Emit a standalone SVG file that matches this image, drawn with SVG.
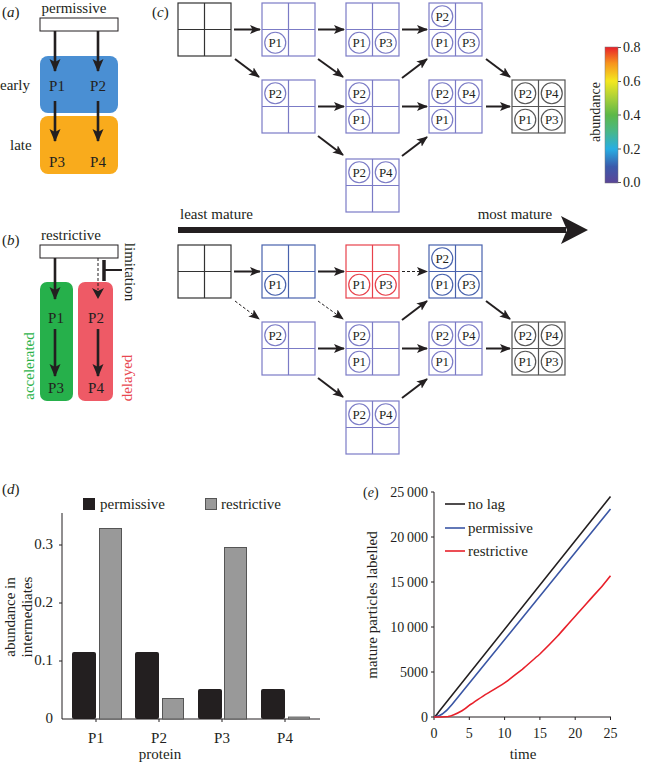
<svg xmlns="http://www.w3.org/2000/svg" width="647" height="764" viewBox="0 0 647 764" font-family="'Liberation Serif', 'DejaVu Serif', serif">
<defs>
<style>
text{fill:#231f20}
.t15{font-size:15px}
.t14{font-size:14px}
.ct{font-size:13px;text-anchor:middle}
.box path,.box rect,.box circle{fill:none;stroke-width:1.2}
.k path,.k rect,.k circle{stroke:#333}
.g path,.g rect,.g circle{stroke:#555}
.lav path,.lav rect,.lav circle{stroke:#7b7bc6}
.blu path,.blu rect,.blu circle{stroke:#4862ad}
.red path,.red rect,.red circle{stroke:#e8414b}
.arr{stroke:#231f20;stroke-width:2;fill:none;marker-end:url(#ah)}
.dash{stroke:#231f20;stroke-width:1;stroke-dasharray:3,2;fill:none;marker-end:url(#ah)}
.barr{stroke:#231f20;stroke-width:2.6;fill:none;marker-end:url(#bh)}
.ax{stroke:#231f20;stroke-width:1;fill:none}
</style>
<marker id="ah" markerUnits="userSpaceOnUse" markerWidth="12" markerHeight="10" refX="10" refY="4.5" orient="auto">
<path d="M0,0 L11,4.5 L0,9 L2.5,4.5 z" fill="#231f20"/>
</marker>
<marker id="bh" markerUnits="userSpaceOnUse" markerWidth="14" markerHeight="12" refX="12" refY="5.5" orient="auto">
<path d="M0,0 L13,5.5 L0,11 L3,5.5 z" fill="#231f20"/>
</marker>
<linearGradient id="jet" x1="0" y1="1" x2="0" y2="0">
<stop offset="0" stop-color="#5b4597"/>
<stop offset="0.12" stop-color="#3b5aab"/>
<stop offset="0.25" stop-color="#27aee3"/>
<stop offset="0.38" stop-color="#49b787"/>
<stop offset="0.5" stop-color="#5cb848"/>
<stop offset="0.62" stop-color="#a6cf3a"/>
<stop offset="0.75" stop-color="#f4e820"/>
<stop offset="0.88" stop-color="#f7941d"/>
<stop offset="1" stop-color="#e8202a"/>
</linearGradient>
</defs>
<rect width="647" height="764" fill="#fff"/>

<!-- Panel a -->
<g id="panel-a">
<text x="2" y="17" class="t15">(<tspan font-style="italic">a</tspan>)</text>
<text x="74" y="13" class="t15" text-anchor="middle">permissive</text>
<rect id="a-permissive" x="40" y="18" width="78" height="13" fill="#fff" stroke="#231f20" stroke-width="1"/>
<rect id="a-early" x="40" y="56" width="78" height="57" rx="8" fill="#4a8fd3"/>
<rect id="a-late" x="40" y="116" width="78" height="58" rx="8" fill="#f9ab1c"/>
<text x="0" y="90" class="t15">early</text>
<text x="10" y="150" class="t15">late</text>
<text x="57" y="91" class="t15" text-anchor="middle">P1</text>
<text x="98" y="91" class="t15" text-anchor="middle">P2</text>
<text x="57" y="167" class="t15" text-anchor="middle">P3</text>
<text x="98" y="167" class="t15" text-anchor="middle">P4</text>
</g>
<g id="a-connectors">
<line x1="55" y1="31" x2="55" y2="71" class="barr"/>
<line x1="98" y1="31" x2="98" y2="71" class="barr"/>
<line x1="55" y1="101" x2="55" y2="141" class="barr"/>
<line x1="98" y1="101" x2="98" y2="141" class="barr"/>
</g>

<!-- Panel b -->
<g id="panel-b">
<text x="2" y="245" class="t15">(<tspan font-style="italic">b</tspan>)</text>
<text x="71" y="240" class="t15" text-anchor="middle">restrictive</text>
<rect id="b-restrictive" x="40" y="245" width="78" height="13" fill="#fff" stroke="#231f20" stroke-width="1"/>
<rect id="b-accel" x="40" y="282" width="33" height="119" rx="7" fill="#26b04b"/>
<rect id="b-delay" x="78" y="282" width="35" height="119" rx="7" fill="#ee5a66"/>
<text x="56" y="323" class="t15" text-anchor="middle">P1</text>
<text x="96" y="323" class="t15" text-anchor="middle">P2</text>
<text x="56" y="393" class="t15" text-anchor="middle">P3</text>
<text x="96" y="393" class="t15" text-anchor="middle">P4</text>
<text transform="translate(34,366) rotate(-90)" class="t15" text-anchor="middle" style="fill:#2db34a">accelerated</text>
<text transform="translate(132,378) rotate(-90)" class="t15" text-anchor="middle" style="fill:#e8474f">delayed</text>
<text transform="translate(125,272) rotate(90)" class="t15" text-anchor="middle">limitation</text>
</g>
<g id="b-connectors">
<line x1="55" y1="258" x2="55" y2="299" class="barr"/>
<line x1="98" y1="258" x2="98" y2="290" stroke="#231f20" stroke-width="1" stroke-dasharray="3,2"/>
<path d="M92,288 L98,299 L104,288 L98,291 z" fill="#231f20"/>
<line x1="55" y1="329" x2="55" y2="376" class="barr"/>
<line x1="98" y1="329" x2="98" y2="376" class="barr"/>
<line x1="104" y1="260" x2="104" y2="281" stroke="#231f20" stroke-width="3.5"/>
<line x1="104" y1="270" x2="122" y2="270" stroke="#231f20" stroke-width="2"/>
</g>

<!-- Panel c -->
<text x="152" y="17" class="t15">(<tspan font-style="italic">c</tspan>)</text>

<g id="A0" class="box k"><rect x="178" y="3" width="53" height="53"/><path d="M204.5,3v53 M178,29.5h53"/></g>
<g id="A1" class="box lav"><rect x="262" y="3" width="53" height="53"/><path d="M288.5,3v53 M262,29.5h53"/>
<circle cx="275.25" cy="42.75" r="10.5"/><text x="275.25" y="47.25" class="ct">P1</text></g>
<g id="A2" class="box lav"><rect x="346" y="3" width="53" height="53"/><path d="M372.5,3v53 M346,29.5h53"/>
<circle cx="359.25" cy="42.75" r="10.5"/><text x="359.25" y="47.25" class="ct">P1</text>
<circle cx="385.75" cy="42.75" r="10.5"/><text x="385.75" y="47.25" class="ct">P3</text></g>
<g id="A3" class="box lav"><rect x="429" y="3" width="53" height="53"/><path d="M455.5,3v53 M429,29.5h53"/>
<circle cx="442.25" cy="16.25" r="10.5"/><text x="442.25" y="20.75" class="ct">P2</text>
<circle cx="442.25" cy="42.75" r="10.5"/><text x="442.25" y="47.25" class="ct">P1</text>
<circle cx="468.75" cy="42.75" r="10.5"/><text x="468.75" y="47.25" class="ct">P3</text></g>
<g id="A4" class="box lav"><rect x="262" y="80" width="53" height="53"/><path d="M288.5,80v53 M262,106.5h53"/>
<circle cx="275.25" cy="93.25" r="10.5"/><text x="275.25" y="97.75" class="ct">P2</text></g>
<g id="A5" class="box lav"><rect x="346" y="80" width="53" height="53"/><path d="M372.5,80v53 M346,106.5h53"/>
<circle cx="359.25" cy="93.25" r="10.5"/><text x="359.25" y="97.75" class="ct">P2</text>
<circle cx="359.25" cy="119.75" r="10.5"/><text x="359.25" y="124.25" class="ct">P1</text></g>
<g id="A6" class="box lav"><rect x="346" y="159" width="53" height="53"/><path d="M372.5,159v53 M346,185.5h53"/>
<circle cx="359.25" cy="172.25" r="10.5"/><text x="359.25" y="176.75" class="ct">P2</text>
<circle cx="385.75" cy="172.25" r="10.5"/><text x="385.75" y="176.75" class="ct">P4</text></g>
<g id="A7" class="box lav"><rect x="429" y="80" width="53" height="53"/><path d="M455.5,80v53 M429,106.5h53"/>
<circle cx="442.25" cy="93.25" r="10.5"/><text x="442.25" y="97.75" class="ct">P2</text>
<circle cx="468.75" cy="93.25" r="10.5"/><text x="468.75" y="97.75" class="ct">P4</text>
<circle cx="442.25" cy="119.75" r="10.5"/><text x="442.25" y="124.25" class="ct">P1</text></g>
<g id="A8" class="box g"><rect x="512" y="80" width="53" height="53"/><path d="M538.5,80v53 M512,106.5h53"/>
<circle cx="525.25" cy="93.25" r="10.5"/><text x="525.25" y="97.75" class="ct">P2</text>
<circle cx="551.75" cy="93.25" r="10.5"/><text x="551.75" y="97.75" class="ct">P4</text>
<circle cx="525.25" cy="119.75" r="10.5"/><text x="525.25" y="124.25" class="ct">P1</text>
<circle cx="551.75" cy="119.75" r="10.5"/><text x="551.75" y="124.25" class="ct">P3</text></g>

<g id="B0" class="box k"><rect x="178" y="245" width="53" height="53"/><path d="M204.5,245v53 M178,271.5h53"/></g>
<g id="B1" class="box blu"><rect x="262" y="245" width="53" height="53"/><path d="M288.5,245v53 M262,271.5h53"/>
<circle cx="275.25" cy="284.75" r="10.5"/><text x="275.25" y="289.25" class="ct">P1</text></g>
<g id="B2" class="box red"><rect x="346" y="245" width="53" height="53"/><path d="M372.5,245v53 M346,271.5h53"/>
<circle cx="359.25" cy="284.75" r="10.5"/><text x="359.25" y="289.25" class="ct">P1</text>
<circle cx="385.75" cy="284.75" r="10.5"/><text x="385.75" y="289.25" class="ct">P3</text></g>
<g id="B3" class="box blu"><rect x="429" y="245" width="53" height="53"/><path d="M455.5,245v53 M429,271.5h53"/>
<circle cx="442.25" cy="258.25" r="10.5"/><text x="442.25" y="262.75" class="ct">P2</text>
<circle cx="442.25" cy="284.75" r="10.5"/><text x="442.25" y="289.25" class="ct">P1</text>
<circle cx="468.75" cy="284.75" r="10.5"/><text x="468.75" y="289.25" class="ct">P3</text></g>
<g id="B4" class="box lav"><rect x="262" y="322" width="53" height="53"/><path d="M288.5,322v53 M262,348.5h53"/>
<circle cx="275.25" cy="335.25" r="10.5"/><text x="275.25" y="339.75" class="ct">P2</text></g>
<g id="B5" class="box lav"><rect x="346" y="322" width="53" height="53"/><path d="M372.5,322v53 M346,348.5h53"/>
<circle cx="359.25" cy="335.25" r="10.5"/><text x="359.25" y="339.75" class="ct">P2</text>
<circle cx="359.25" cy="361.75" r="10.5"/><text x="359.25" y="366.25" class="ct">P1</text></g>
<g id="B6" class="box lav"><rect x="346" y="401" width="53" height="53"/><path d="M372.5,401v53 M346,427.5h53"/>
<circle cx="359.25" cy="414.25" r="10.5"/><text x="359.25" y="418.75" class="ct">P2</text>
<circle cx="385.75" cy="414.25" r="10.5"/><text x="385.75" y="418.75" class="ct">P4</text></g>
<g id="B7" class="box lav"><rect x="429" y="322" width="53" height="53"/><path d="M455.5,322v53 M429,348.5h53"/>
<circle cx="442.25" cy="335.25" r="10.5"/><text x="442.25" y="339.75" class="ct">P2</text>
<circle cx="468.75" cy="335.25" r="10.5"/><text x="468.75" y="339.75" class="ct">P4</text>
<circle cx="442.25" cy="361.75" r="10.5"/><text x="442.25" y="366.25" class="ct">P1</text></g>
<g id="B8" class="box g"><rect x="512" y="322" width="53" height="53"/><path d="M538.5,322v53 M512,348.5h53"/>
<circle cx="525.25" cy="335.25" r="10.5"/><text x="525.25" y="339.75" class="ct">P2</text>
<circle cx="551.75" cy="335.25" r="10.5"/><text x="551.75" y="339.75" class="ct">P4</text>
<circle cx="525.25" cy="361.75" r="10.5"/><text x="525.25" y="366.25" class="ct">P1</text>
<circle cx="551.75" cy="361.75" r="10.5"/><text x="551.75" y="366.25" class="ct">P3</text></g>

<g id="c-connectors">
<line x1="234" y1="29.5" x2="260" y2="29.5" class="arr"/>
<line x1="318" y1="29.5" x2="344" y2="29.5" class="arr"/>
<line x1="402" y1="29.5" x2="427" y2="29.5" class="arr"/>
<line x1="318" y1="106.5" x2="344" y2="106.5" class="arr"/>
<line x1="402" y1="106.5" x2="427" y2="106.5" class="arr"/>
<line x1="486" y1="106.5" x2="510" y2="106.5" class="arr"/>
<line x1="235" y1="59" x2="259" y2="77" class="arr"/>
<line x1="318" y1="59" x2="343" y2="77" class="arr"/>
<line x1="318" y1="136" x2="343" y2="155" class="arr"/>
<line x1="402" y1="78" x2="427" y2="59" class="arr"/>
<line x1="402" y1="156" x2="427" y2="137" class="arr"/>
<line x1="486" y1="59" x2="510" y2="77" class="arr"/>

<line x1="234" y1="271.5" x2="260" y2="271.5" class="arr"/>
<line x1="318" y1="271.5" x2="344" y2="271.5" class="arr"/>
<line x1="402" y1="271.5" x2="427" y2="271.5" class="dash"/>
<line x1="318" y1="348.5" x2="344" y2="348.5" class="arr"/>
<line x1="402" y1="348.5" x2="427" y2="348.5" class="arr"/>
<line x1="486" y1="348.5" x2="510" y2="348.5" class="arr"/>
<line x1="235" y1="301" x2="259" y2="319" class="dash"/>
<line x1="318" y1="301" x2="343" y2="319" class="dash"/>
<line x1="318" y1="378" x2="343" y2="397" class="arr"/>
<line x1="402" y1="320" x2="427" y2="301" class="arr"/>
<line x1="402" y1="398" x2="427" y2="379" class="arr"/>
<line x1="486" y1="301" x2="510" y2="319" class="arr"/>
</g>

<g id="maturity-arrow">
<rect x="178" y="227" width="388" height="6" fill="#231f20"/>
<path d="M561,216 L588,230 L561,244 L567,230 z" fill="#231f20"/>
<text x="180" y="219" class="t15">least mature</text>
<text x="515" y="219" class="t15" text-anchor="middle">most mature</text>
</g>

<g id="colorbar">
<rect x="605" y="47" width="13" height="136" fill="url(#jet)" stroke="#777" stroke-width="0.5"/>
<path d="M618,47.5h3 M618,81.5h3 M618,115h3 M618,149h3 M618,182.5h3" stroke="#555" stroke-width="1"/>
<text x="623" y="52" class="t14">0.8</text>
<text x="623" y="86" class="t14">0.6</text>
<text x="623" y="120" class="t14">0.4</text>
<text x="623" y="154" class="t14">0.2</text>
<text x="623" y="187" class="t14">0.0</text>
<text transform="translate(600,112) rotate(-90)" class="t14" text-anchor="middle">abundance</text>
</g>

<!-- Panel d -->
<g id="panel-d">
<text x="2" y="494" class="t15">(<tspan font-style="italic">d</tspan>)</text>
<rect x="83" y="498" width="12" height="12" fill="#231f20"/>
<text x="100" y="509" class="t15">permissive</text>
<rect x="205.5" y="498.5" width="11" height="11" fill="#999" stroke="#555" stroke-width="1"/>
<text x="221" y="509" class="t15">restrictive</text>
<path d="M62,513 V719 H320" class="ax"/>
<path d="M59,545h3 M59,603h3 M59,661h3 M96,719v3 M159,719v3 M222,719v3 M285,719v3" class="ax"/>
<text x="53" y="723" class="t15" text-anchor="end">0</text>
<text x="53" y="665" class="t15" text-anchor="end">0.1</text>
<text x="53" y="607" class="t15" text-anchor="end">0.2</text>
<text x="53" y="549" class="t15" text-anchor="end">0.3</text>
<g id="bars">
<rect x="72" y="652" width="24" height="67" rx="2" fill="#231f20"/>
<rect x="99.5" y="528.5" width="22" height="190.5" fill="#999" stroke="#555" stroke-width="1"/>
<rect x="135" y="652" width="24" height="67" rx="2" fill="#231f20"/>
<rect x="162.5" y="698.5" width="21" height="20.5" fill="#999" stroke="#555" stroke-width="1"/>
<rect x="198" y="689" width="24" height="30" rx="2" fill="#231f20"/>
<rect x="224.5" y="547.5" width="22" height="171.5" fill="#999" stroke="#555" stroke-width="1"/>
<rect x="261" y="689" width="24" height="30" rx="2" fill="#231f20"/>
<rect x="288.5" y="717" width="21" height="2" fill="#999" stroke="#555" stroke-width="0.8"/>
</g>
<text x="96" y="743" class="t15" text-anchor="middle">P1</text>
<text x="159" y="743" class="t15" text-anchor="middle">P2</text>
<text x="222" y="743" class="t15" text-anchor="middle">P3</text>
<text x="285" y="743" class="t15" text-anchor="middle">P4</text>
<text x="160" y="759" class="t15" text-anchor="middle">protein</text>
<text transform="translate(15,617) rotate(-90)" class="t15" text-anchor="middle">abundance in</text>
<text transform="translate(32,617) rotate(-90)" class="t15" text-anchor="middle">intermediates</text>
</g>

<!-- Panel e -->
<g id="panel-e">
<text x="363" y="497" class="t14">(<tspan font-style="italic">e</tspan>)</text>
<path d="M434,492 V717 H611" class="ax"/>
<path d="M431,492h3 M431,537h3 M431,582h3 M431,627h3 M431,672h3 M431,717h3 M434,717v3 M469.3,717v3 M504.6,717v3 M539.9,717v3 M575.2,717v3 M610.5,717v3" class="ax"/>
<text x="428" y="497" class="t14" text-anchor="end">25&#8201;000</text>
<text x="428" y="542" class="t14" text-anchor="end">20&#8201;000</text>
<text x="428" y="587" class="t14" text-anchor="end">15&#8201;000</text>
<text x="428" y="632" class="t14" text-anchor="end">10&#8201;000</text>
<text x="428" y="677" class="t14" text-anchor="end">5000</text>
<text x="428" y="722" class="t14" text-anchor="end">0</text>
<text x="434" y="738" class="t14" text-anchor="middle">0</text>
<text x="469.3" y="738" class="t14" text-anchor="middle">5</text>
<text x="504.6" y="738" class="t14" text-anchor="middle">10</text>
<text x="539.9" y="738" class="t14" text-anchor="middle">15</text>
<text x="575.2" y="738" class="t14" text-anchor="middle">20</text>
<text x="610.5" y="738" class="t14" text-anchor="middle">25</text>
<text x="523" y="759" class="t15" text-anchor="middle">time</text>
<text transform="translate(377,605) rotate(-90)" class="t15" text-anchor="middle">mature particles labelled</text>
<g id="curves" fill="none" stroke-width="1.6">
<path d="M434,717 C436,716.5 437,714 439,711.5 L610.5,496.5" stroke="#231f20"/>
<path d="M434,717 C440,717 446,712 452,704.5 L610.5,509" stroke="#3a56a5"/>
<path d="M434,717 L441,717 L448,716.5 C452,716 457,713.5 462,710.7 C466,708.5 469,705.3 469.3,705.3 C475,702 481,697 487,693.6 C493,690 499,686.5 504.6,682.8 C511,678.5 516,674 522.3,669.3 C528,664.5 534,659 539.9,654 C546,648 552,642 557.6,636 C563,630 569,623 575.2,616.2 C581,610 587,603 592.9,596.4 C599,590 605,583 610.5,575.7" stroke="#e8202a"/>
</g>
<g id="legend-e">
<line x1="445" y1="504" x2="465" y2="504" stroke="#231f20" stroke-width="1.6"/>
<line x1="445" y1="528" x2="465" y2="528" stroke="#3a56a5" stroke-width="1.6"/>
<line x1="445" y1="551" x2="465" y2="551" stroke="#e8202a" stroke-width="1.6"/>
<text x="468" y="509" class="t15">no lag</text>
<text x="468" y="533" class="t15">permissive</text>
<text x="468" y="556" class="t15">restrictive</text>
</g>
</g>
</svg>
